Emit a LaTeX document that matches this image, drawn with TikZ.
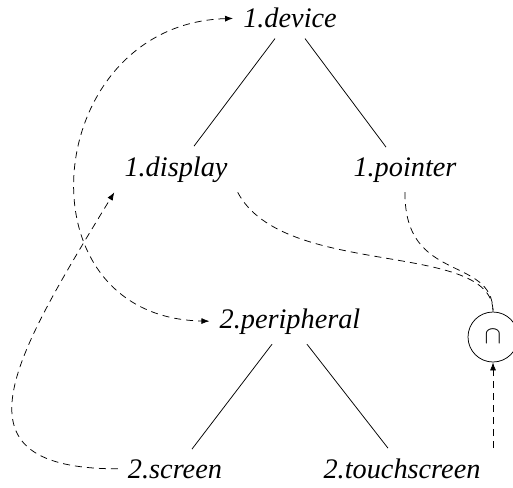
\documentclass[tikz,border=0pt]{standalone}
\usepackage{fontspec}
\setmainfont{Liberation Serif}
\usetikzlibrary{arrows.meta}
\begin{document}
\begin{tikzpicture}[x=1pt,y=-1pt,
  lbl/.style={font=\fontsize{28.3}{33}\selectfont\itshape, inner sep=10pt, anchor=base},
  treeedge/.style={line width=0.75pt},
  dline/.style={line width=0.75pt, dash pattern=on 7pt off 5pt},
  dep/.style={dline, -{Latex[length=8pt,width=6pt]}},
  dboth/.style={dline, {Latex[length=8pt,width=6pt]}-{Latex[length=8pt,width=6pt]}},
]
\useasboundingbox (0,0) rectangle (513,487);
\node[lbl] (device) at (290,28) {1.device};
\node[lbl] (display) at (176,176) {1.display};
\node[lbl] (pointer) at (405,176) {1.pointer};
\node[lbl] (peripheral) at (290,328) {2.peripheral};
\node[lbl] (screen) at (175,478) {2.screen};
\node[lbl] (touch) at (402,478) {2.touchscreen};
\node[circle, draw, line width=0.75pt, minimum size=50pt, inner sep=0pt] (cap) at (493,337) {\fontsize{24}{24}\selectfont$\cap$};

\draw[treeedge] ([xshift=-15pt]device.south) -- ([xshift=18pt]display.north);
\draw[treeedge] ([xshift=15pt]device.south) -- ([xshift=-19pt]pointer.north);
\draw[treeedge] ([xshift=-18pt]peripheral.south) -- ([xshift=17pt]screen.north);
\draw[treeedge] ([xshift=17pt]peripheral.south) -- ([xshift=-14pt]touch.north);

\draw[dep] (screen.west) .. controls +(-170,0) and +(-104,170) .. (display.south west);
\draw[dboth] (device.west) .. controls +(-192,6) and +(-195,-4) .. (peripheral.west);
\draw[dline] (display.south east) .. controls +(46,87) and +(0,-72) .. (cap.north);
\draw[dline] (pointer.south) .. controls +(-1,92) and +(0,-57) .. (cap.north);
\draw[dep] (cap.south |- touch.north) -- (cap.south);
\end{tikzpicture}
\end{document}
